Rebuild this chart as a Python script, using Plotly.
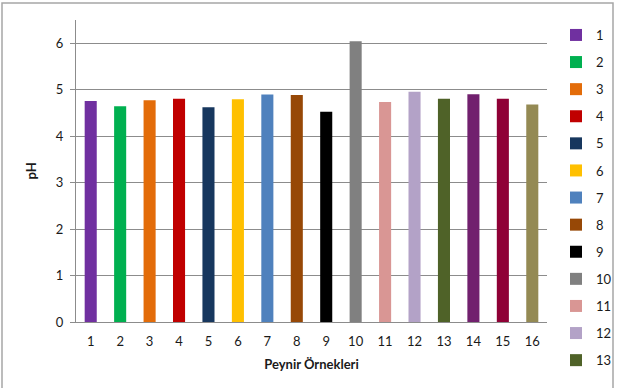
import plotly.graph_objects as go

samples = [str(i) for i in range(1, 17)]
ph_values = [4.75, 4.64, 4.77, 4.80, 4.62, 4.79, 4.89, 4.88, 4.52, 6.04,
             4.73, 4.95, 4.80, 4.90, 4.80, 4.68]
colors = ["#7030A0", "#00B050", "#E36C09", "#C00000", "#17375E", "#FFC000",
          "#4F81BD", "#974806", "#000000", "#808080", "#D99694", "#B3A2C7",
          "#4F6228", "#71206E", "#8F0036", "#948A54"]
legend_visible = [True] * 13 + [False] * 3

W, H = 619, 388
L, R = 76, 72
pw = W - L - R
plot_top, plot_bottom = 19.75, 322  # pixel rows of the y-axis range

fig = go.Figure()
for s, v, c, lv in zip(samples, ph_values, colors, legend_visible):
    fig.add_trace(go.Bar(x=[s], y=[v], name=s, marker=dict(color=c, line=dict(width=0)),
                         width=0.41, showlegend=lv, legendgroup=s))

font_family = "Lato, 'Open Sans', sans-serif"
fig.update_layout(
    width=W, height=H,
    margin=dict(l=L, r=R, t=0, b=0, pad=0, autoexpand=False),
    paper_bgcolor="white", plot_bgcolor="white",
    barmode="overlay",
    font=dict(family=font_family, size=13, color="#1a1a1a"),
    xaxis=dict(type="category", categoryorder="array", categoryarray=samples,
               automargin=False,
               showgrid=False, showline=True, linecolor="#8c8c8c", linewidth=1,
               ticks="", tickfont=dict(size=13), ticklabelstandoff=7,
               title=dict(text="<b>Peynir Örnekleri</b>", font=dict(size=13), standoff=12)),
    yaxis=dict(range=[0, 6.5], tickvals=[0, 1, 2, 3, 4, 5, 6],
               automargin=False,
               domain=[(H - plot_bottom) / H, (H - plot_top) / H],
               showgrid=True, gridcolor="#8c8c8c", gridwidth=1,
               showline=True, linecolor="#8c8c8c", linewidth=1,
               ticks="outside", ticklen=5, tickcolor="#8c8c8c",
               zeroline=False, tickfont=dict(size=13), ticklabelstandoff=4,
               title=dict(text="<b>pH</b>", font=dict(size=13), standoff=16)),
    legend=dict(x=(556 - L) / pw, xanchor="left", y=(H - 20) / H, yanchor="top",
                font=dict(size=13), tracegroupgap=7.2, itemclick=False,
                bgcolor="rgba(0,0,0,0)"),
    shapes=[dict(type="rect", xref="paper", yref="paper",
                 x0=(2 - L) / pw, x1=(613 - L) / pw,
                 y0=-0.05, y1=(H - 3) / H,
                 line=dict(color="#a6a6a6", width=1.5), layer="below")],
)

fig.write_html("out.html")
